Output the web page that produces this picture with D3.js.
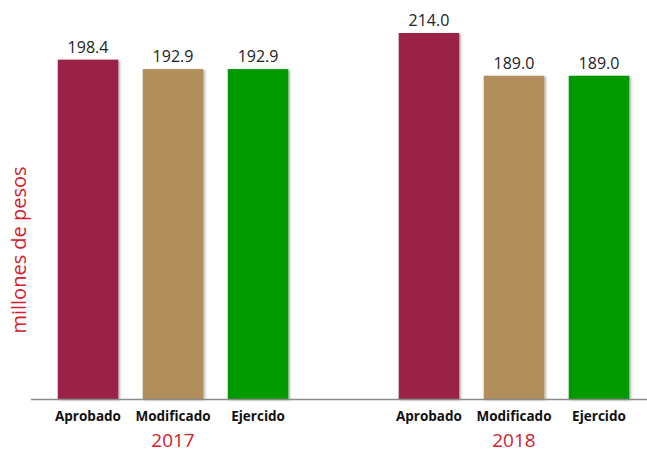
<!DOCTYPE html>
<html lang="es">
<head>
<meta charset="UTF-8">
<script src="https://d3js.org/d3.v7.min.js"></script>
<style>
  body { margin: 0; background: #fff; }
  svg text { font-family: "Open Sans", "Noto Sans", sans-serif; }
</style>
</head>
<body>
<script>
  // data
  const years = ["2017", "2018"];
  const categories = ["Aprobado", "Modificado", "Ejercido"];
  const values2017 = [198.4, 192.9, 192.9];
  const values2018 = [214.0, 189.0, 189.0];
  const colors = ["#9B2247", "#B38E5D", "#009900"];

  const w = 647;
  const h = 452;
  const baseY = 399;

  const rows = years.map((yr, i) => ({
    year: yr,
    values: [values2017, values2018][i]
  }));

  const svg = d3.select("body").append("svg")
    .attr("width", w)
    .attr("height", h);

  // soft shadow under the bars
  const f = svg.append("defs").append("filter")
    .attr("id", "shadow")
    .attr("x", "-10%").attr("y", "-10%")
    .attr("width", "130%").attr("height", "130%");
  f.append("feDropShadow")
    .attr("dx", 1.5).attr("dy", 1)
    .attr("stdDeviation", 0.8)
    .attr("flood-color", "#000")
    .attr("flood-opacity", 0.35);

  const x0 = d3.scaleBand()
    .domain(years)
    .range([45.5, 641.5])
    .paddingInner(0.252)
    .paddingOuter(0);

  const x1 = d3.scaleBand()
    .domain(categories)
    .range([0, x0.bandwidth()])
    .paddingInner(0.288)
    .paddingOuter(0.144);

  const y = d3.scaleLinear()
    .domain([0, d3.max(values2018)])
    .range([baseY, 33]);

  const color = d3.scaleOrdinal().domain(categories).range(colors);

  const groups = svg.selectAll("g.year")
    .data(rows)
    .enter()
    .append("g")
    .attr("class", "year")
    .attr("transform", d => "translate(" + x0(d.year) + ",0)");

  const cells = groups.selectAll("g.bar")
    .data(d => categories.map((c, i) => ({cat: c, value: d.values[i]})))
    .enter()
    .append("g")
    .attr("class", "bar");

  cells.append("rect")
    .attr("x", d => x1(d.cat))
    .attr("y", d => y(d.value))
    .attr("width", x1.bandwidth())
    .attr("height", d => baseY - y(d.value))
    .attr("fill", d => color(d.cat))
    .attr("filter", "url(#shadow)");

  cells.append("text")
    .attr("x", d => x1(d.cat) + x1.bandwidth() / 2)
    .attr("y", d => y(d.value) - 7)
    .attr("text-anchor", "middle")
    .attr("font-size", 16)
    .attr("fill", "#222")
    .text(d => d.value.toFixed(1));

  cells.append("text")
    .attr("x", d => x1(d.cat) + x1.bandwidth() / 2)
    .attr("y", 421)
    .attr("text-anchor", "middle")
    .attr("font-size", 13.5)
    .attr("font-weight", "bold")
    .attr("fill", "#111")
    .text(d => d.cat);

  // year labels
  groups.append("text")
    .attr("x", x0.bandwidth() / 2)
    .attr("y", 447)
    .attr("text-anchor", "middle")
    .attr("font-size", 19)
    .attr("fill", "#D4202C")
    .text(d => d.year);

  // baseline
  svg.append("line")
    .attr("x1", 31)
    .attr("x2", w)
    .attr("y1", baseY + 0.5)
    .attr("y2", baseY + 0.5)
    .attr("stroke", "#8a8a8a")
    .attr("stroke-width", 1.5);

  // y label
  svg.append("text")
    .attr("transform", "translate(26,250) rotate(-90)")
    .attr("text-anchor", "middle")
    .attr("font-size", 20)
    .attr("fill", "#D4202C")
    .text("millones de pesos");
</script>
</body>
</html>
